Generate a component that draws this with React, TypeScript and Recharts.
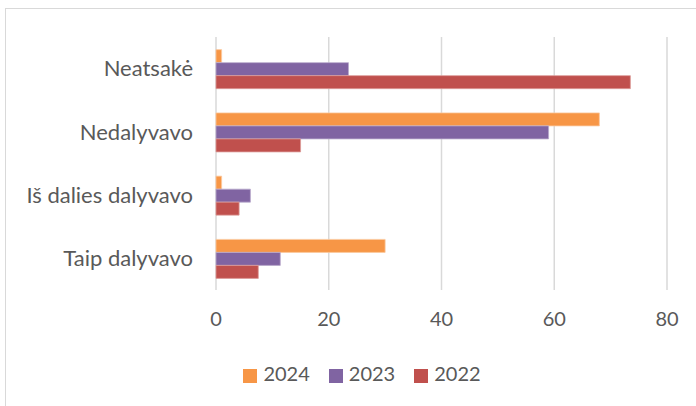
import { Bar, BarChart, CartesianGrid, Legend, XAxis, YAxis } from "recharts"

// categories top to bottom
const categories = ["Neatsakė", "Nedalyvavo", "Iš dalies dalyvavo", "Taip dalyvavo"]
const values2024 = [1, 68, 1, 30]
const values2023 = [23.5, 59, 6.1, 11.4]
const values2022 = [73.5, 15, 4.1, 7.5]
const xTicks = [0, 20, 40, 60, 80]

const data = categories.map((name, i) => ({
  name,
  y2024: values2024[i],
  y2023: values2023[i],
  y2022: values2022[i],
}))

const font = "Lato, 'Open Sans', sans-serif"
const textColor = "#595959"

export default function App() {
  return (
    <div
      style={{
        position: "fixed",
        left: 0,
        top: 0,
        width: 696,
        height: 406,
        overflow: "hidden",
        background: "#fff",
      }}
    >
      {/* chart frame, runs off the right and bottom edges */}
      <div
        style={{
          position: "absolute",
          left: 5,
          top: 8,
          width: 760,
          height: 460,
          border: "1px solid #d9d9d9",
          boxSizing: "border-box",
        }}
      />
      <div style={{ position: "absolute", left: 0, top: 0 }}>
        <BarChart
          width={730}
          height={406}
          data={data}
          layout="vertical"
          margin={{ top: 37, right: 63, bottom: 0, left: 0 }}
          barCategoryGap="20%"
          barGap={0}
        >
          <CartesianGrid horizontal={false} stroke="#d9d9d9" strokeWidth={1.5} />
          <XAxis
            type="number"
            domain={[0, 80]}
            ticks={xTicks}
            axisLine={false}
            tickLine={false}
            tickSize={0}
            tickMargin={22}
            height={116}
            tick={{ fill: textColor, fontSize: 20, fontFamily: font }}
          />
          <YAxis
            type="category"
            dataKey="name"
            width={216}
            axisLine={false}
            tickLine={false}
            tickSize={0}
            tickMargin={23}
            tick={{ fill: textColor, fontSize: 22, fontFamily: font }}
          />
          <Legend
            verticalAlign="middle"
            align="center"
            iconType="square"
            iconSize={14}
            itemSorter={(item) => -Number(item.value)}
            wrapperStyle={{ top: 361, left: 38, fontFamily: font, fontSize: 20 }}
            formatter={(value) => (
              <span style={{ color: textColor, paddingLeft: 2, paddingRight: 9 }}>{value}</span>
            )}
          />
          <Bar dataKey="y2024" name="2024" fill="#F79646" stroke="#fbc9a0" strokeWidth={0.8} isAnimationActive={false} />
          <Bar dataKey="y2023" name="2023" fill="#8064A2" stroke="#b9a9cc" strokeWidth={0.8} isAnimationActive={false} />
          <Bar dataKey="y2022" name="2022" fill="#C0504D" stroke="#dc9a98" strokeWidth={0.8} isAnimationActive={false} />
        </BarChart>
      </div>
    </div>
  )
}
